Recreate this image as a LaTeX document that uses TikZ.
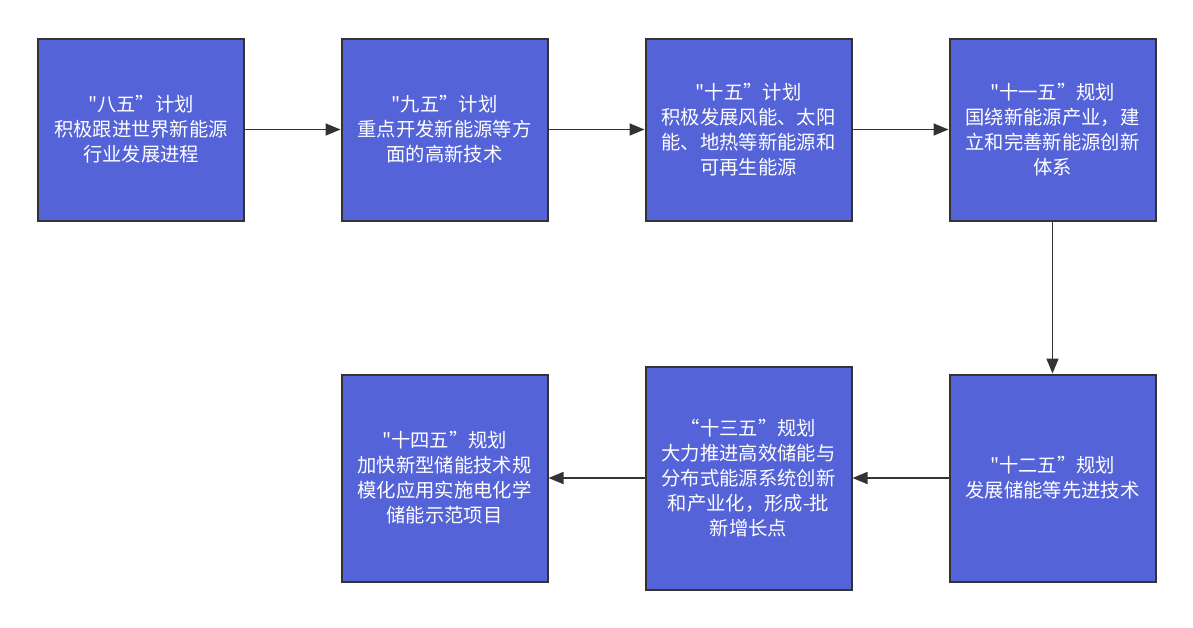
\documentclass[tikz,border=0pt]{standalone}
\usepackage{fontspec}
\usepackage{tikz}
\usetikzlibrary{arrows.meta}
\newfontfamily\cjk{Noto Sans CJK SC}
\definecolor{planblue}{RGB}{85,99,216}
\definecolor{linegray}{RGB}{51,51,51}

\begin{document}
\begin{tikzpicture}[x=1pt, y=-1pt, >={Triangle[length=15pt, width=12pt]}]
\useasboundingbox (0,0) rectangle (1193,627);
\begin{scope}[every node/.style={rectangle, draw=linegray, line width=2pt, fill=planblue, text=white,
    minimum width=206pt, minimum height=182pt, inner sep=0pt, align=center,
    font=\cjk\fontsize{19.3}{25}\selectfont}]

  \node (p8) at (141,129.5) {"八五”计划\\积极跟进世界新能源\\行业发展进程};
  \node (p9) at (444.5,129.5) {"九五”计划\\重点开发新能源等方\\面的高新技术};
  \node (p10) at (748.5,129.5) {"十五”计划\\积极发展风能、太阳\\能、地热等新能源和\\可再生能源};
  \node (p11) at (1052.5,129.5) {"十一五”规划\\国绕新能源产业，建\\立和完善新能源创新\\体系};
  \node[minimum height=207pt] (p12) at (1052.5,478) {"十二五”规划\\发展储能等先进技术};
  \node[minimum height=223pt] (p13) at (748.5,478) {“十三五”规划\\大力推进高效储能与\\分布式能源系统创新\\和产业化，形成-批\\新增长点};
  \node[minimum height=207pt] (p14) at (444.5,478) {"十四五”规划\\加快新型储能技术规\\模化应用实施电化学\\储能示范项目};
\end{scope}

\begin{scope}[every edge/.style={draw=linegray, line width=1.8pt}]
\path[->] (p8) edge (p9);
\path[->] (p9) edge (p10);
\path[->] (p10) edge (p11);
\path[->] (p11) edge (p12);
\path[->] (p12) edge (p13);
\path[->] (p13) edge (p14);
\end{scope}

\end{tikzpicture}
\end{document}
